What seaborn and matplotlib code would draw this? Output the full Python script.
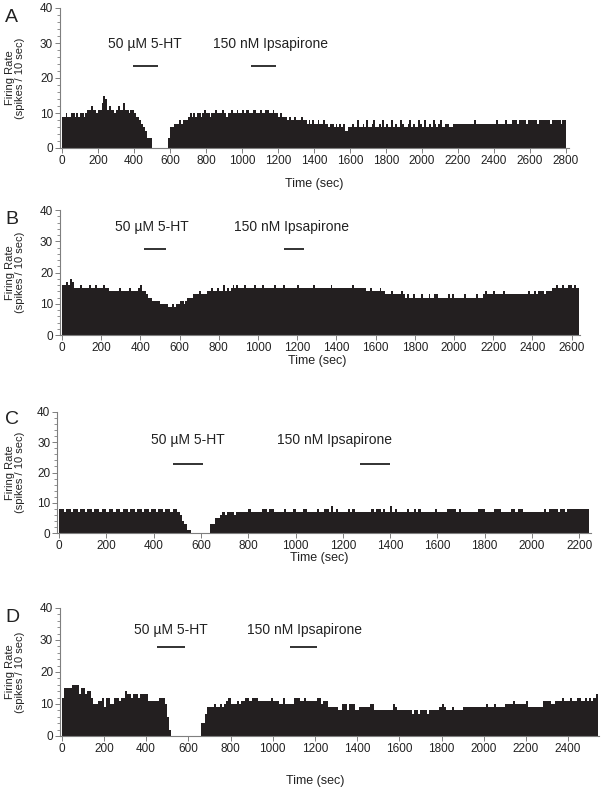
import matplotlib
matplotlib.use("Agg")
import matplotlib.pyplot as plt
import seaborn as sns
import numpy as np
import pandas as pd

sns.set_style("ticks")
plt.rcParams["font.family"] = ["Liberation Sans", "DejaVu Sans"]

# firing rate per 10 s bin (spikes / 10 sec)
rate_a = """9 9 10 9 9 10 10 9 10 9 10 10 9 10 11 11 12 11 11 10 11 11 13 15 14
11 12 11 11 10 11 12 11 11 13 11 11 10 11 11 10 9 9 8 7 6 5 3 3 3
0 0 0 0 0 0 0 0 0 3 6 6 7 7 7 8 7 8 8 8 9 10
9 10 9 10 10 9 10 11 10 10 9 10 10 11 10 10 10 11 10 9 10 10 11 10
10 11 10 10 11 10 11 11 10 10 11 11 10 10 11 10 10 11 11 10 10 11 10 10
9 10 9 9 9 8 9 8 8 9 8 8 8 9 8 8
7 8 7 8 7 7 8 7 7 8 7 7 6 7 7 6 7 6 7 6 7 5 5
6 6 7 6 6 8 6 6 7 6 8 6 6 7 8 6 6 7 6 8 6 7 6 6 8 6 7 6 6 8 7 6 6 7 8
6 7 6 6 8 7 6 8 6 6 7 6 8 7 6 7 8 6 6 7 7 6 6 7 7 7 7 7 7 7 7 7 7 7 7 8
7 7 7 7 7 7 7 7 7 7 7 8 7 7 7 7 8 7 7 7
8 8 8 7 8 8 8 8 7 8 8 8 8 8 7 8 8 8 8 8 8 7 8 8 8 8 8 7 8 8"""

rate_b = """16 16 17 16 18 17 15 15 15 16 15 15 15 15 16 15 15 16 15 15 15 16 15 15
14 14 14 14 14 15 14 14 14 14 15 14 14 14 14 15 16 14
14 13 12 12 11 11 11 11 10 10 10 10 9 9 10 9 10 10
11 11 10 11 12 12 12 13 13 13 14 13 13 13
14 14 15 14 14 15 14 14 16 14 15 14 15 16
15 16 15 15 15 16 15 15 15 15 16 15 15 15 16 15 15 15 15 15
16 15 15 15 15 16 15 15 15 15 15 15 16 15 15 15 15 15 15 15
16 15 15 15 15 15 15 15 15 16 15 15 15 15 15 15 15 15 15 15 16 15 15 15 15 15 15
14 14 15 14 14 14 14 15 14 14 13 13 13 14 13 13 13 13 14 13
12 13 12 12 13 12 12 12 13 12 12 12 13 12 12 13 13 12 12 12
12 12 13 12 13 12 12 12 12 12 13 12 12 12 12 12 13 12 12 12
13 14 13 13 13 14 13 13 13 13 14 13 13 13 13 13 13 13 13 13
13 13 13 14 13 13 14 13 14 14 14 13 14 14 14
15 15 16 15 15 16 15 15 16 16 15 16 15 15"""

rate_c = """8 8 7 8 8 7 8 8 7 8 8 7 8 8 7 8 8 7 8 8 7 8 8 7 8 8 7 8 8 7
8 8 7 8 8 7 8 8 7 8 8 7 8 8 7 8 8 7 8 8
7 6 4 3 1 1 0 0 0 0 0 0 0 0 3 3 5 5 6 7 6 7 7 7 6 7 7 7 7 7
8 7 7 7 7 7 8 8 7 8 8 7 7 7 7 8 7 7 7 8 7 7 7 8 8 7 7 7 7 8
7 7 8 8 7 9 7 8 7 7 7 7 8 7 8 7 7 7 7 7 7 7 8 7 8 8 7 8 7 7
9 7 8 7 7 7 7 8 7 7 8 7 8 7 7 7 7 7 7 8 7 7 7 7 8 8 8 8 7 8
7 7 7 7 7 7 7 8 8 8 7 7 7 7 8 8 8 7 7 7 7 8 8 7 8 8 7 7 7 7
7 7 7 7 7 8 7 8 8 8 8 7 8 8 7 8 8 8 8 8 8 8 8 8"""

rate_d = """12 15 15 15 15 16 16 16 13 15 15 13 14 14 12 10 10 11 11 12
9 12 12 10 10 12 12 11 12 12 14 13 13 12 13 13 12 13 13 13
13 11 11 11 11 11 12 12 12 10 6 2
0 0 0 0 0 0 0 0 0 0 0 0 0 0
4 4 7 9 9 9 10 9 9 10 9 10 11 12
10 10 10 11 10 11 11 12 12 11 12 12 12 11 11 11 11 11 11
12 11 11 11 10 10 12 10 10 10 10 12 12 12 11 11 12 11
11 11 11 11 12 12 10 11 11 9 9 9 9 9 8 8 10 10 8 10 10 10 8
8 9 9 9 9 9 10 10 8 8 8 8 8 8 8 8 8 10 9 8 8 8 8 8
8 8 7 8 8 7 8 8 8 7 8 8 8 8 8 9 10 9 8 8 8 9 8 8 8 8 9
9 9 9 9 9 9 9 9 9 9 10 9 9 9 10 9 9 9 9
10 10 10 10 11 10 10 10 10 10 11 9 9 9 9 9 9 9 11 11 11 11 10 10
11 11 11 12 11 11 11 12 11 11 12 12 11 11 12 11 12 11 12 13"""

# drug application windows (sec)
serotonin_on = [(396, 535), (418, 531), (482, 609), (452, 582)]
ipsapirone_on = [(1050, 1190), (1134, 1237), (1273, 1400), (1083, 1212)]
serotonin_label_x = [461, 459, 543, 518]
ipsapirone_label_x = [1161, 1173, 1163, 1149]
x_tick_max = [2800, 2600, 2200, 2400]
panel_names = ["A", "B", "C", "D"]

W, H = 605, 796
# layout in pixels: x of t=0, px per sec, xlim, top, bottom
layout = [
    dict(x0=62, s=0.18, xlim=(-11, 2815), top=8, bot=148, txt=29.7, bar=23.5, xl=184, let=18),
    dict(x0=62, s=0.196, xlim=(-10, 2645), top=210, bot=335, txt=34.6, bar=27.5, xl=361, let=220),
    dict(x0=59, s=0.2365, xlim=(-8, 2250), top=412, bot=533, txt=30.7, bar=22.8, xl=558, let=420),
    dict(x0=61.7, s=0.211, xlim=(-8, 2545), top=608, bot=736, txt=33.0, bar=27.7, xl=781, let=617),
]

rates = [rate_a, rate_b, rate_c, rate_d]
bar_col = "#231f20"
axis_col = "#7f7f7f"
text_col = "#222222"

fig = plt.figure(figsize=(W / 100, H / 100), dpi=100)

for k in range(4):
    L = layout[k]
    vals = np.array(rates[k].split(), dtype=float)
    df = pd.DataFrame({"t": np.arange(len(vals)) * 10 + 5, "rate": vals})

    left_px = L["x0"] + L["xlim"][0] * L["s"]
    right_px = L["x0"] + L["xlim"][1] * L["s"]
    ax = fig.add_axes([left_px / W, 1 - L["bot"] / H,
                       (right_px - left_px) / W, (L["bot"] - L["top"]) / H])

    sns.histplot(data=df, x="t", weights="rate", binwidth=10,
                 binrange=(0, len(vals) * 10), color=bar_col, alpha=1,
                 linewidth=0, ax=ax)

    ax.set_xlim(*L["xlim"])
    ax.set_ylim(0, 40)
    ax.set_xticks(np.arange(0, x_tick_max[k] + 1, 200))
    ax.set_yticks([0, 10, 20, 30, 40])
    ax.set_yticks(np.arange(0, 41, 2), minor=True)
    ax.tick_params(axis="both", labelsize=8.5, length=3.5, width=0.7, pad=1.5,
                   colors=axis_col, labelcolor=text_col)
    ax.tick_params(axis="y", which="minor", length=2, width=0.6, colors=axis_col)
    ax.set_xlabel("")
    ax.set_ylabel("")
    for side in ["top", "right"]:
        ax.spines[side].set_visible(False)
    for side in ["left", "bottom"]:
        ax.spines[side].set_color(axis_col)
        ax.spines[side].set_linewidth(0.8)

    # drug annotations
    s0, s1 = serotonin_on[k]
    i0, i1 = ipsapirone_on[k]
    ax.plot([s0, s1], [L["bar"], L["bar"]], color=text_col, lw=1.3,
            solid_capstyle="butt")
    ax.plot([i0, i1], [L["bar"], L["bar"]], color=text_col, lw=1.3,
            solid_capstyle="butt")
    ax.text(serotonin_label_x[k], L["txt"], "50 µM 5-HT", ha="center",
            va="center", fontsize=10, color=text_col)
    ax.text(ipsapirone_label_x[k], L["txt"], "150 nM Ipsapirone", ha="center",
            va="center", fontsize=10, color=text_col)

    mid = (L["top"] + L["bot"]) / 2
    fig.text(15 / W, 1 - mid / H, "Firing Rate\n(spikes / 10 sec)",
             rotation=90, ha="center", va="center", fontsize=8,
             multialignment="center", color=text_col, linespacing=1.1)
    fig.text((L["x0"] + x_tick_max[k] / 2 * L["s"]) / W, 1 - L["xl"] / H,
             "Time (sec)", ha="center", va="center", fontsize=9,
             color=text_col)
    fig.text(5 / W, 1 - L["let"] / H, panel_names[k], ha="left", va="center",
             fontsize=14, color=text_col)

fig.savefig("out.png", dpi=100)
